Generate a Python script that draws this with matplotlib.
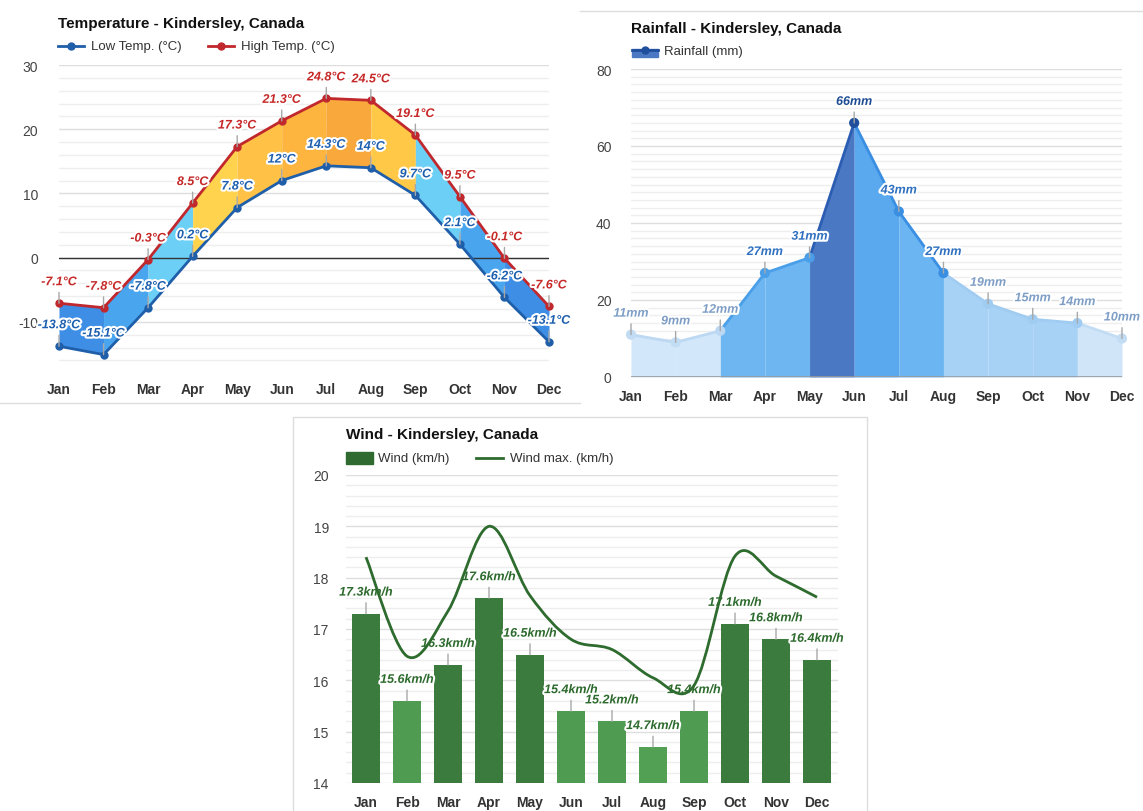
import matplotlib.pyplot as plt
import matplotlib.patheffects as pe
from matplotlib.lines import Line2D
from matplotlib.patches import Rectangle
from matplotlib.path import Path
from matplotlib.patches import PathPatch
import numpy as np

plt.rcParams['font.family'] = ['Liberation Sans', 'DejaVu Sans']
plt.rcParams['axes.unicode_minus'] = False

months = ['Jan', 'Feb', 'Mar', 'Apr', 'May', 'Jun', 'Jul', 'Aug', 'Sep', 'Oct', 'Nov', 'Dec']
temp_low = [-13.8, -15.1, -7.8, 0.2, 7.8, 12, 14.3, 14, 9.7, 2.1, -6.2, -13.1]
temp_high = [-7.1, -7.8, -0.3, 8.5, 17.3, 21.3, 24.8, 24.5, 19.1, 9.5, -0.1, -7.6]
rain = [11, 9, 12, 27, 31, 66, 43, 27, 19, 15, 14, 10]
wind = [17.3, 15.6, 16.3, 17.6, 16.5, 15.4, 15.2, 14.7, 15.4, 17.1, 16.8, 16.4]
wind_max = [18.4, 16.47, 17.35, 19.0, 17.65, 16.8, 16.6, 16.05, 15.9, 18.42, 18.03, 17.62]

W, H = 1143, 812


def fx(x):
    return x / W


def fy(y):
    return 1 - y / H


def rect(x0, y0, x1, y1):
    return [fx(x0), fy(y1), fx(x1) - fx(x0), fy(y0) - fy(y1)]


halo = [pe.withStroke(linewidth=3, foreground='white')]
lbl_font = dict(fontsize=9, fontweight='bold', fontstyle='italic')


def label(ax, x, y, txt, color, off=15):
    ax.annotate(txt, xy=(x, y), xytext=(0, off), textcoords='offset pixels',
                ha='center', va='bottom', color=color, path_effects=halo,
                arrowprops=dict(arrowstyle='-', color='#a8a8a8', lw=1,
                                shrinkA=1, shrinkB=0),
                zorder=6, **lbl_font)


def style(ax, pad):
    for s in ax.spines.values():
        s.set_visible(False)
    ax.tick_params(which='both', length=0, labelsize=10, labelcolor='#444444')
    ax.tick_params(axis='y', pad=pad)
    ax.tick_params(axis='x', pad=9)
    for t in ax.get_xticklabels():
        t.set_fontweight('bold')
        t.set_color('#333333')
    ax.grid(which='major', axis='y', color='#dedede', lw=1)
    ax.grid(which='minor', axis='y', color='#eeeeee', lw=1)
    ax.set_axisbelow(True)


fig = plt.figure(figsize=(W / 100, H / 100), dpi=100)
fig.patch.set_facecolor('white')
x = np.arange(12)

# ---------------- temperature
ax1 = fig.add_axes(rect(59, 66, 549, 371))
seg_col = ['#3f8ee6', '#4aa5ef', '#6ccff6', '#ffd34d', '#ffc246', '#fdb53f',
           '#f9a93c', '#ffc847', '#6ccff6', '#4aa5ef', '#3f8ee6']
for i in range(11):
    ax1.fill_between(x[i:i + 2], temp_low[i:i + 2], temp_high[i:i + 2],
                     color=seg_col[i], lw=0, zorder=2)
ax1.axhline(0, color='#333333', lw=1, zorder=3)
ax1.plot(x, temp_low, color='#1f5ea8', lw=2, marker='o', ms=5, zorder=4, clip_on=False)
ax1.plot(x, temp_high, color='#c0282d', lw=2, marker='o', ms=5, zorder=4, clip_on=False)
for i in range(12):
    label(ax1, i, temp_high[i], f'{temp_high[i]:g}°C', '#c62828')
    label(ax1, i, temp_low[i], f'{temp_low[i]:g}°C', '#1d5fae')
ax1.set_xlim(0, 11)
ax1.set_ylim(-17.5, 30)
ax1.set_yticks([-10, 0, 10, 20, 30])
ax1.set_yticks(np.arange(-16, 30, 2), minor=True)
ax1.set_xticks(x)
ax1.set_xticklabels(months)
style(ax1, 15)

fig.text(fx(58), fy(24), 'Temperature - Kindersley, Canada', fontsize=11,
         fontweight='bold', va='center', color='#111111')
fig.add_artist(Line2D([fx(58), fx(84)], [fy(47), fy(47)], color='#1f5ea8', lw=2,
                      transform=fig.transFigure))
fig.add_artist(Line2D([fx(71)], [fy(47)], color='#1f5ea8', marker='o', ms=5,
                      transform=fig.transFigure))
fig.text(fx(91), fy(47), 'Low Temp. (°C)', fontsize=9.5, va='center', color='#333333')
fig.add_artist(Line2D([fx(208), fx(234)], [fy(47), fy(47)], color='#c0282d', lw=2,
                      transform=fig.transFigure))
fig.add_artist(Line2D([fx(221)], [fy(47)], color='#c0282d', marker='o', ms=5,
                      transform=fig.transFigure))
fig.text(fx(241), fy(47), 'High Temp. (°C)', fontsize=9.5, va='center', color='#333333')

# ---------------- rainfall
ax2 = fig.add_axes(rect(631, 70, 1122, 378))
fill_col = ['#d2e7f9', '#d2e7f9', '#6db6f1', '#6db6f1', '#4a78c3', '#5aa9ef',
            '#6ab5f2', '#a8d1f6', '#a8d1f6', '#a8d1f6', '#d0e5f8']
line_col = ['#bcd8f2', '#bcd8f2', '#4a9fe8', '#4a9fe8', '#2b5db3', '#3a8fe3',
            '#3a8fe3', '#a0ccf2', '#a0ccf2', '#a0ccf2', '#c2dcf4']
pt_col = ['#c2dcf4', '#c2dcf4', '#bcd8f2', '#4a9fe8', '#4a9fe8', '#1f4f9c',
          '#3a8fe3', '#3a8fe3', '#a0ccf2', '#a0ccf2', '#a0ccf2', '#c2dcf4']
txt_col = ['#7f9ec6', '#7f9ec6', '#7f9ec6', '#2f70c0', '#2f70c0', '#1d4b94',
           '#2f70c0', '#2f70c0', '#7f9ec6', '#7f9ec6', '#7f9ec6', '#7f9ec6']
for i in range(11):
    ax2.fill_between(x[i:i + 2], 0, rain[i:i + 2], color=fill_col[i], lw=0, zorder=2)
    ax2.plot(x[i:i + 2], rain[i:i + 2], color=line_col[i], lw=2, zorder=3,
             solid_capstyle='butt')
ax2.scatter(x, rain, s=40, c=pt_col, zorder=4, clip_on=False)
for i in range(12):
    label(ax2, i, rain[i], f'{rain[i]}mm', txt_col[i])
ax2.axhline(0, color='#9a9a9a', lw=1.2, zorder=3)
ax2.set_xlim(0, 11)
ax2.set_ylim(0, 80)
ax2.set_yticks([0, 20, 40, 60, 80])
ax2.set_yticks(np.arange(0, 80, 2), minor=True)
ax2.set_xticks(x)
ax2.set_xticklabels(months)
style(ax2, 14)

fig.text(fx(631), fy(29), 'Rainfall - Kindersley, Canada', fontsize=11,
         fontweight='bold', va='center', color='#111111')
fig.add_artist(Rectangle((fx(632), fy(58)), fx(26), 8 / H, color='#4a78c3',
                         transform=fig.transFigure))
fig.add_artist(Line2D([fx(632), fx(658)], [fy(51), fy(51)], color='#1f4f9c', lw=2,
                      transform=fig.transFigure))
fig.add_artist(Line2D([fx(645)], [fy(51)], color='#1f4f9c', marker='o', ms=5,
                      transform=fig.transFigure))
fig.text(fx(664), fy(52), 'Rainfall (mm)', fontsize=9.5, va='center', color='#333333')

# ---------------- wind
ax3 = fig.add_axes(rect(345.5, 476, 837.5, 784))
bar_col = ['#3c7b3e', '#4f9b51', '#3c7b3e', '#3c7b3e', '#3c7b3e', '#4f9b51',
           '#4f9b51', '#52a053', '#4f9b51', '#3c7b3e', '#3c7b3e', '#3c7b3e']
ax3.bar(x, wind, width=0.66, color=bar_col, zorder=2)
# smooth max line (Catmull-Rom -> cubic Bezier, in data coords)
pts = np.column_stack([x, wind_max]).astype(float)
verts = [pts[0]]
codes = [Path.MOVETO]
for i in range(11):
    p0 = pts[max(i - 1, 0)]
    p1 = pts[i]
    p2 = pts[i + 1]
    p3 = pts[min(i + 2, 11)]
    verts += [p1 + (p2 - p0) / 6, p2 - (p3 - p1) / 6, p2]
    codes += [Path.CURVE4] * 3
ax3.add_patch(PathPatch(Path(verts, codes), fill=False, edgecolor='#2e6b2e',
                        lw=2, zorder=7))
for i in range(12):
    label(ax3, i, wind[i], f'{wind[i]:g}km/h', '#2d6a2d')
ax3.set_xlim(-0.5, 11.5)
ax3.set_ylim(14, 20)
ax3.set_yticks(range(14, 21))
ax3.set_yticks(np.arange(14, 20, 0.2), minor=True)
ax3.set_xticks(x)
ax3.set_xticklabels(months)
style(ax3, 12)

fig.text(fx(346), fy(435), 'Wind - Kindersley, Canada', fontsize=11,
         fontweight='bold', va='center', color='#111111')
fig.add_artist(Rectangle((fx(346), fy(465)), fx(27), 12 / H, color='#2f6b31',
                         transform=fig.transFigure))
fig.text(fx(378), fy(459), 'Wind (km/h)', fontsize=9.5, va='center', color='#333333')
fig.add_artist(Line2D([fx(476), fx(503)], [fy(459), fy(459)], color='#2e6b2e', lw=2,
                      transform=fig.transFigure))
fig.text(fx(510), fy(459), 'Wind max. (km/h)', fontsize=9.5, va='center', color='#333333')

# panel edges
edge = dict(color='#dddddd', lw=1, transform=fig.transFigure)
fig.add_artist(Line2D([fx(580), fx(1143)], [fy(12), fy(12)], **edge))
fig.add_artist(Line2D([fx(0), fx(580)], [fy(404), fy(404)], **edge))
fig.add_artist(Line2D([fx(293), fx(293), fx(867), fx(867)],
                      [fy(812), fy(418), fy(418), fy(812)], **edge))

fig.savefig('out.png', dpi=100)
